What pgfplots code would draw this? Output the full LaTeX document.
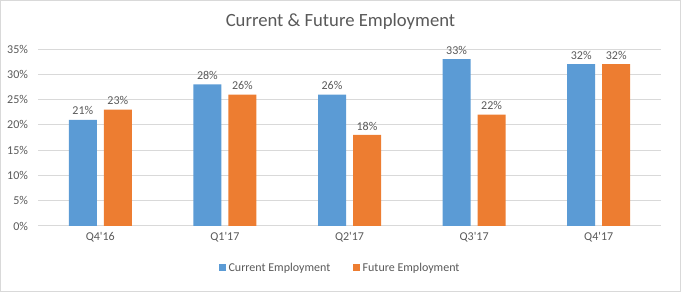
\documentclass[border=0pt]{standalone}
\usepackage{fontspec}
\setmainfont{Carlito}
\usepackage{pgfplots}
\pgfplotsset{compat=1.18}
\definecolor{cblue}{HTML}{5B9BD5}
\definecolor{corange}{HTML}{ED7D31}
\definecolor{gridc}{HTML}{D9D9D9}
\definecolor{txt}{HTML}{595959}
\begin{document}
\begin{tikzpicture}
\draw[gridc, line width=0.75pt] (0.375pt,0.375pt) rectangle (510.375pt,218.625pt);
\node[txt, font=\fontsize{14}{16}\selectfont] at (255.375pt,202.5pt) {Current \& Future Employment};
\begin{axis}[
  at={(28.5pt,49.5pt)}, anchor=south west,
  scale only axis, width=467.25pt, height=132.75pt,
  xmin=-0.5, xmax=4.5, ymin=0, ymax=35,
  xtick=data, xticklabels={Q4\textquotesingle16,Q1\textquotesingle17,Q2\textquotesingle17,Q3\textquotesingle17,Q4\textquotesingle17},
  ytick={0,5,...,35}, yticklabel={\pgfmathprintnumber{\tick}\%},
  /pgf/number format/assume math mode=true,
  ymajorgrids, grid style={gridc, line width=0.75pt},
  axis x line*=bottom, axis y line*=left,
  x axis line style={gridc, line width=0.75pt, -},
  y axis line style={draw=none},
  major tick length=0pt,
  tick label style={txt, font=\fontsize{9}{10}\selectfont},
  yticklabel style={xshift=-4pt},
  xticklabel style={yshift=-1pt},
  ybar, bar width=21pt,
  nodes near coords={\pgfmathprintnumber{\pgfplotspointmeta}\%},
  nodes near coords style={txt, font=\fontsize{9}{10}\selectfont, /pgf/number format/assume math mode=true},
  legend style={at={(0.4856,-0.237)}, anchor=center, draw=none, fill=none,
    legend columns=2, font=\fontsize{9}{10}\selectfont, text=txt,
    /tikz/every even column/.append style={column sep=15pt}},
  legend image code/.code={\fill[#1] (0pt,-2.6pt) rectangle (5.25pt,2.65pt);},
]
\addplot[fill=cblue, draw=none, bar shift=-13.125pt] coordinates {(0,21) (1,28) (2,26) (3,33) (4,32)};
\addplot[fill=corange, draw=none, bar shift=13.125pt] coordinates {(0,23) (1,26) (2,18) (3,22) (4,32)};
\legend{Current Employment, Future Employment}
\end{axis}
\end{tikzpicture}
\end{document}
